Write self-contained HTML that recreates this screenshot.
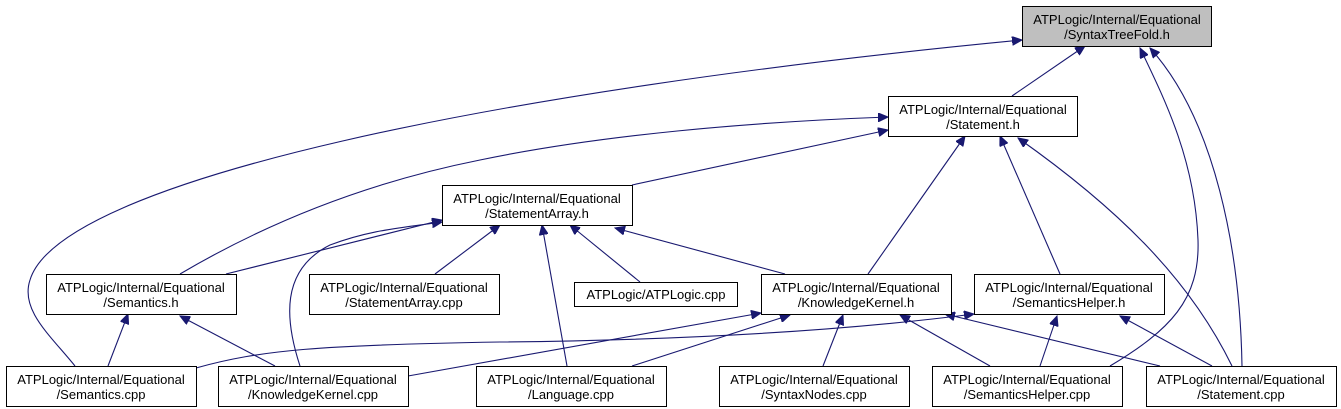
<!DOCTYPE html>
<html><head><meta charset="utf-8"><style>
body{margin:0;background:#fff;width:1341px;height:409px;overflow:hidden;}
svg{display:block}
text{font-family:"Liberation Sans",Arial,sans-serif;font-size:13px;fill:#000;text-anchor:middle}
.b{fill:#fff;stroke:#000;stroke-width:1}
.e{fill:none;stroke:#191970;stroke-width:1.1;marker-end:url(#a)}
</style></head><body>
<svg width="1341" height="409" viewBox="0 0 1341 409">
<defs><marker id="a" markerUnits="userSpaceOnUse" markerWidth="11" markerHeight="9" refX="10" refY="4.5" orient="auto"><path d="M0,0 L10,4.5 L0,9 z" fill="#191970" stroke="#191970"/></marker></defs>
<g>
<path class="e" d="M75,366 C50,335 20,310 30,280 C60,180 500,90 1022,40"/>
<path class="e" d="M1012,96 L1085,46"/>
<path class="e" d="M1110,366 C1170,330 1200,300 1198,240 C1195,160 1165,100 1140,48"/>
<path class="e" d="M1242,366 C1240,250 1215,120 1150,48"/>
<path class="e" d="M632,185 L888,130"/>
<path class="e" d="M180,274 C280,215 380,180 480,160 C600,135 750,122 888,117"/>
<path class="e" d="M868,274 L965,136"/>
<path class="e" d="M1060,274 L1000,136"/>
<path class="e" d="M1232,366 C1190,280 1120,210 1018,138"/>
<path class="e" d="M226,274 L442,220"/>
<path class="e" d="M300,366 C285,320 280,270 330,245 C370,230 400,228 442,222"/>
<path class="e" d="M435,274 L500,225"/>
<path class="e" d="M567,366 L542,225"/>
<path class="e" d="M640,282 L570,225"/>
<path class="e" d="M785,274 L615,228"/>
<path class="e" d="M108,366 L128,314"/>
<path class="e" d="M275,366 L180,316"/>
<path class="e" d="M408,376 L761,313"/>
<path class="e" d="M632,366 L790,315"/>
<path class="e" d="M823,366 L843,315"/>
<path class="e" d="M990,366 L900,315"/>
<path class="e" d="M1160,366 L945,314"/>
<path class="e" d="M196,368 C260,350 320,345 500,342 C700,340 850,330 974,314"/>
<path class="e" d="M1040,366 L1057,316"/>
<path class="e" d="M1212,366 L1120,316"/>
</g>
<g>
<rect x="1022.5" y="6.5" width="189" height="40" fill="#bfbfbf" stroke="#000"/>
<text x="1117" y="24">ATPLogic/Internal/Equational</text><text x="1117" y="39">/SyntaxTreeFold.h</text>

<rect class="b" x="888.5" y="96.5" width="189" height="40"/>
<text x="983" y="114">ATPLogic/Internal/Equational</text><text x="983" y="129">/Statement.h</text>

<rect class="b" x="442.5" y="185.5" width="190" height="40"/>
<text x="537" y="203">ATPLogic/Internal/Equational</text><text x="537" y="218">/StatementArray.h</text>

<rect class="b" x="46.5" y="274.5" width="190" height="40"/>
<text x="141" y="292">ATPLogic/Internal/Equational</text><text x="141" y="307">/Semantics.h</text>

<rect class="b" x="309.5" y="274.5" width="190" height="40"/>
<text x="404" y="292">ATPLogic/Internal/Equational</text><text x="404" y="307">/StatementArray.cpp</text>

<rect class="b" x="574.5" y="282.5" width="163" height="24"/>
<text x="656" y="299">ATPLogic/ATPLogic.cpp</text>

<rect class="b" x="761.5" y="274.5" width="190" height="40"/>
<text x="856" y="292">ATPLogic/Internal/Equational</text><text x="856" y="307">/KnowledgeKernel.h</text>

<rect class="b" x="974.5" y="274.5" width="190" height="40"/>
<text x="1069" y="292">ATPLogic/Internal/Equational</text><text x="1069" y="307">/SemanticsHelper.h</text>

<rect class="b" x="6.5" y="366.5" width="190" height="40"/>
<text x="101" y="384">ATPLogic/Internal/Equational</text><text x="101" y="399">/Semantics.cpp</text>

<rect class="b" x="218.5" y="366.5" width="190" height="40"/>
<text x="313" y="384">ATPLogic/Internal/Equational</text><text x="313" y="399">/KnowledgeKernel.cpp</text>

<rect class="b" x="476.5" y="366.5" width="190" height="40"/>
<text x="571" y="384">ATPLogic/Internal/Equational</text><text x="571" y="399">/Language.cpp</text>

<rect class="b" x="719.5" y="366.5" width="190" height="40"/>
<text x="814" y="384">ATPLogic/Internal/Equational</text><text x="814" y="399">/SyntaxNodes.cpp</text>

<rect class="b" x="932.5" y="366.5" width="190" height="40"/>
<text x="1027" y="384">ATPLogic/Internal/Equational</text><text x="1027" y="399">/SemanticsHelper.cpp</text>

<rect class="b" x="1146.5" y="366.5" width="190" height="40"/>
<text x="1241" y="384">ATPLogic/Internal/Equational</text><text x="1241" y="399">/Statement.cpp</text>
</g>
</svg>
</body></html>
